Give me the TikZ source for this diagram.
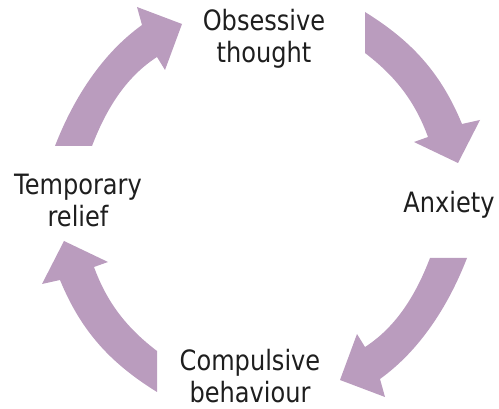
\documentclass[tikz,border=0pt]{standalone}
\usepackage{fontspec}
\setmainfont[FakeStretch=0.86]{DejaVu Sans}
\definecolor{arrowmauve}{RGB}{186,156,190}
\definecolor{labeltext}{RGB}{30,30,30}
\begin{document}
\begin{tikzpicture}[x=1pt,y=-1pt,
  cyclearrow/.style={fill=arrowmauve,draw=none},
  label/.style={text=labeltext,font=\fontsize{28}{32}\selectfont,align=center,inner sep=0pt}]
\useasboundingbox (0,0) rectangle (499,409);
% arrow: Temporary relief -> Obsessive thought
\fill[cyclearrow] (55,146) .. controls (73,99.5) and (101.4,54.2) .. (142,25) -- (137,7) -- (182,24) -- (165,70) -- (157,57) .. controls (125,77.6) and (105.6,110.5) .. (92,146) -- cycle;
% arrow: Obsessive thought -> Anxiety
\fill[cyclearrow] (365,12) .. controls (411.8,41) and (441,73) .. (462,124) -- (480,120) -- (458,163) -- (414,142) -- (428,137) .. controls (415,101.3) and (395.2,76) .. (365,53) -- cycle;
\begin{scope}[rotate around={180:(261,202)}]
% arrow: Anxiety -> Compulsive behaviour
\fill[cyclearrow] (55,146) .. controls (73,99.5) and (101.4,54.2) .. (142,25) -- (137,7) -- (182,24) -- (165,70) -- (157,57) .. controls (125,77.6) and (105.6,110.5) .. (92,146) -- cycle;
% arrow: Compulsive behaviour -> Temporary relief
\fill[cyclearrow] (365,12) .. controls (411.8,41) and (441,73) .. (462,124) -- (480,120) -- (458,163) -- (414,142) -- (428,137) .. controls (415,101.3) and (395.2,76) .. (365,53) -- cycle;
\end{scope}
\node[label] (obs) at (264,39) {Obsessive\\thought};
\node[label,anchor=base] (anx) at (449,213) {Anxiety};
\node[label] (comp) at (250,376.5) {Compulsive\\behaviour};
\node[label] (relief) at (78,200.5) {Temporary\\relief};
\end{tikzpicture}
\end{document}
